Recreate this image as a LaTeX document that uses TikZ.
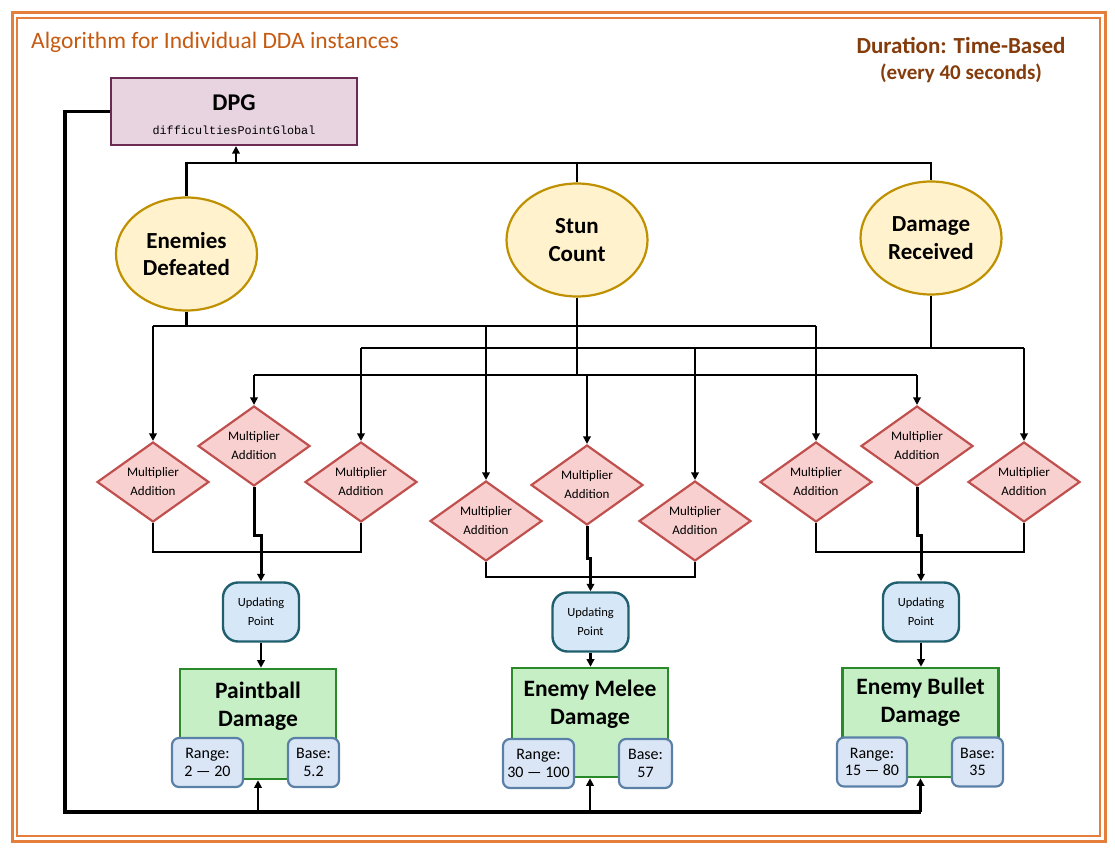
\documentclass[tikz,border=0pt]{standalone}
\usepackage{fontspec}
\setmainfont{Carlito}
\newfontfamily\monofont{Liberation Mono}
\usetikzlibrary{shapes.geometric,arrows.meta}
\definecolor{frameC}{HTML}{E47E3C}
\definecolor{titleC}{HTML}{C55A11}
\definecolor{durC}{HTML}{843C0C}
\definecolor{dpgFill}{HTML}{E8D3E0}
\definecolor{dpgLine}{HTML}{6B2A52}
\definecolor{ellFill}{HTML}{FFF2CC}
\definecolor{ellLine}{HTML}{BF9000}
\definecolor{diaFill}{HTML}{F8D0D0}
\definecolor{diaLine}{HTML}{C0504D}
\definecolor{updFill}{HTML}{D6E8F7}
\definecolor{updLine}{HTML}{1F5F6E}
\definecolor{dmgFill}{HTML}{C6EFC6}
\definecolor{dmgLine}{HTML}{2A8A2A}
\definecolor{valFill}{HTML}{DAE6F5}
\definecolor{valLine}{HTML}{5B80A8}
\begin{document}
\begin{tikzpicture}[x=1pt,y=-1pt,
  conn/.style={draw=black, line width=2.5pt},
  arr/.style={conn, -{Triangle[width=7.5pt,length=7.5pt]}},
  ellbox/.style={ellipse, draw=ellLine, fill=ellFill, line width=2.2pt, minimum width=141pt, minimum height=113pt, inner sep=0pt, align=center, font=\fontsize{23}{27.5}\selectfont\bfseries},
  dia/.style={diamond, draw=diaLine, fill=diaFill, line width=2.2pt, aspect=1.4, minimum width=112pt, minimum height=80pt, inner sep=0pt, align=center, font=\fontsize{13}{19}\selectfont},
  upd/.style={rectangle, rounded corners=15pt, draw=updLine, fill=updFill, line width=2.4pt, minimum width=76pt, minimum height=59pt, inner sep=0pt, align=center, font=\fontsize{12.5}{19}\selectfont},
  dmg/.style={rectangle, draw=dmgLine, fill=dmgFill, line width=2.6pt, minimum width=156pt, minimum height=110pt, inner sep=0pt},
  dmgtxt/.style={align=center, font=\fontsize{23.5}{28}\selectfont\bfseries, inner sep=0pt},
  val/.style={rectangle, rounded corners=7pt, draw=valLine, fill=valFill, line width=2.2pt, minimum height=49pt, inner sep=0pt, align=center, font=\fontsize{16}{17.5}\selectfont}
]
\useasboundingbox (0,0) rectangle (1115,856);
% frame
\draw[frameC, line width=3pt] (12,13) rectangle (1105,841);
\draw[frameC, line width=1.2pt] (17,18) rectangle (1100,836);
% headings
\node[anchor=west, inner sep=0pt, text=titleC, font=\fontsize{23.5}{28}\selectfont] (title) at (31,42) {Algorithm for Individual DDA instances};
\node[inner sep=0pt, text=durC, font=\fontsize{23}{28}\selectfont\bfseries] (dur1) at (961,45) {Duration: Time-Based};
\node[inner sep=0pt, text=durC, font=\fontsize{21}{24}\selectfont\bfseries] (dur2) at (961,73) {(every 40 seconds)};
% DPG
\node[rectangle, draw=dpgLine, fill=dpgFill, line width=2.2pt, minimum width=246pt, minimum height=67pt, inner sep=0pt] (dpg) at (234,111.5) {};
\node[inner sep=0pt, font=\fontsize{24}{28}\selectfont\bfseries] (dpgT) at (234,103) {DPG};
\node[inner sep=0pt, font=\monofont\fontsize{11.8}{14}\selectfont] (dpgS) at (234,130) {difficultiesPointGlobal};
% ellipses
\node[ellbox] (ed) at (186.5,254) {Enemies\\Defeated};
\node[ellbox] (sc) at (577,240) {Stun\\Count};
\node[ellbox] (dr) at (931,238) {Damage\\Received};
% diamonds
\node[dia] (L1) at (153,482) {Multiplier\\Addition};
\node[dia] (L2) at (254,446) {Multiplier\\Addition};
\node[dia] (L3) at (361,482) {Multiplier\\Addition};
\node[dia] (M1) at (486,521) {Multiplier\\Addition};
\node[dia] (M2) at (587,485) {Multiplier\\Addition};
\node[dia] (M3) at (695,521) {Multiplier\\Addition};
\node[dia] (R1) at (816,482) {Multiplier\\Addition};
\node[dia] (R2) at (917,446) {Multiplier\\Addition};
\node[dia] (R3) at (1024,482) {Multiplier\\Addition};
% updating points
\node[upd] (U1) at (261,612) {Updating\\Point};
\node[upd] (U2) at (590.5,622) {Updating\\Point};
\node[upd] (U3) at (921,612) {Updating\\Point};
% damage boxes
\node[dmg] (PB) at (258,724) {};
\node[dmg, minimum height=109pt] (EM) at (590,722.5) {};
\node[dmg, minimum height=109pt] (EB) at (920.5,722.5) {};
\node[dmgtxt] (PBt) at (258,706) {Paintball\\Damage};
\node[dmgtxt] (EMt) at (590,704) {Enemy Melee\\Damage};
\node[dmgtxt] (EBt) at (920.5,702.5) {Enemy Bullet\\Damage};
\node[val, minimum width=71pt] (PBr) at (207.5,762.5) {Range:\\2 — 20};
\node[val, minimum width=51pt] (PBb) at (313.5,762.5) {Base:\\5.2};
\node[val, minimum width=71pt] (EMr) at (538.5,763.5) {Range:\\30 — 100};
\node[val, minimum width=53pt] (EMb) at (645.5,763.5) {Base:\\57};
\node[val, minimum width=70pt] (EBr) at (872,762) {Range:\\15 — 80};
\node[val, minimum width=51pt] (EBb) at (977.5,762) {Base:\\35};
% helper coordinates
\coordinate (jtop) at (236,163);
\coordinate (h1) at (0,326);
\coordinate (h2) at (0,375);
\coordinate (h3) at (0,348);
\coordinate (mL) at (0,552);
\coordinate (jL) at (0,535);
\coordinate (mM) at (0,577);
\coordinate (jM) at (0,558);
\coordinate (fb) at (65,812);
% to DPG
\draw[conn] (ed.north) -- (ed.north |- jtop) -- (dr.north |- jtop) -- (dr.north);
\draw[conn] (sc.north) -- (sc.north |- jtop);
\draw[arr] (jtop) -- (dpg.south -| jtop);
% enemies defeated fan-out
\draw[conn] (ed.south) -- (ed.south |- h1);
\draw[conn] (L1.north |- h1) -- (R1.north |- h1);
\draw[arr] (L1.north |- h1) -- (L1.north);
\draw[arr] (M1.north |- h1) -- (M1.north);
\draw[arr] (R1.north |- h1) -- (R1.north);
% damage received fan-out
\draw[conn] (dr.south) -- (dr.south |- h3);
\draw[conn] (L3.north |- h3) -- (R3.north |- h3);
\draw[arr] (L3.north |- h3) -- (L3.north);
\draw[arr] (M3.north |- h3) -- (M3.north);
\draw[arr] (R3.north |- h3) -- (R3.north);
% stun count fan-out
\draw[conn] (sc.south) -- (sc.south |- h2);
\draw[conn] (L2.north |- h2) -- (R2.north |- h2);
\draw[arr] (L2.north |- h2) -- (L2.north);
\draw[arr] (M2.north |- h2) -- (M2.north);
\draw[arr] (R2.north |- h2) -- (R2.north);
% merges - left
\draw[conn] (L1.south) -- (L1.south |- mL) -- (L3.south |- mL) -- (L3.south);
\draw[arr, line width=3pt] (L2.south) -- (L2.south |- jL) -- (U1.north |- jL) -- (U1.north);
% merges - middle
\draw[conn] (M1.south) -- (M1.south |- mM) -- (M3.south |- mM) -- (M3.south);
\draw[arr, line width=3pt] (M2.south) -- (M2.south |- jM) -- (U2.north |- jM) -- (U2.north);
% merges - right
\draw[conn] (R1.south) -- (R1.south |- mL) -- (R3.south |- mL) -- (R3.south);
\draw[arr, line width=3pt] (R2.south) -- (R2.south |- jL) -- (U3.north |- jL) -- (U3.north);
% updating -> damage
\draw[arr] (U1.south) -- (U1.south |- PB.north);
\draw[arr] (U2.south) -- (U2.south |- EM.north);
\draw[arr] (U3.south) -- (U3.south |- EB.north);
% feedback from DPG
\draw[conn, line width=3.5pt] (dpg.west) -| (fb) -- (EB.south |- fb);
\draw[arr] (PB.south |- fb) -- (PB.south);
\draw[arr] (EM.south |- fb) -- (EM.south);
\draw[arr] (EB.south |- fb) -- (EB.south);
\end{tikzpicture}
\end{document}
